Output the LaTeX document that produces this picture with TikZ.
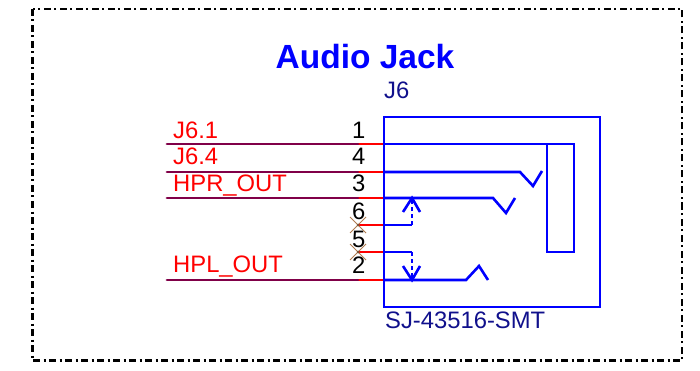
\documentclass[tikz,border=0pt]{standalone}
\usepackage{fontspec}
\setmainfont{Liberation Sans}
\usepackage{xcolor}
\usetikzlibrary{calc}

\begin{document}
\begin{tikzpicture}[x=1pt,y=-1pt,line join=miter]
	% Colors
	\definecolor{partcolor}{RGB}{0,0,255}
	\definecolor{netcolor}{RGB}{128,0,72}
	\definecolor{stubcolor}{RGB}{255,0,0}
	\definecolor{reftext}{RGB}{16,16,140}
	\definecolor{nccolor}{RGB}{176,124,80}

	\tikzset{
		part/.style={draw=partcolor,line width=2.6pt},
		net/.style={draw=netcolor,line width=2.8pt},
		stub/.style={draw=stubcolor,line width=2.8pt},
		nc/.style={draw=nccolor,line width=1pt},
		sheettext/.style={inner sep=0pt,anchor=base west,font=\fontsize{23.8}{24}\selectfont},
		pinnum/.style={sheettext,anchor=base,text=black},
		netname/.style={sheettext,text=stubcolor},
	}

	\useasboundingbox (0,0) rectangle (700,371);
	\draw[line width=2.4pt,dash pattern=on 7pt off 3.5pt on 2pt off 3.5pt] (32.5,9) rectangle (682,360.5);

	\node[inner sep=0pt,anchor=base,text=partcolor,font=\fontsize{33.5}{34}\selectfont\bfseries] (title) at (365,69) {Audio Jack};
	\node[sheettext,text=reftext] (refdes) at (384,99) {J6};
	\node[sheettext,text=reftext] (partno) at (385,328) {SJ-43516-SMT};

	% Pins, top to bottom
	\foreach \n/\y/\b in {1/144/139, 4/172/165, 3/198/192, 6/225/219, 5/252/247, 2/280/273}
	{
		\coordinate (pin\n) at (384,\y);
		\coordinate (stub\n) at (358,\y);
		\draw[stub] (stub\n) -- (pin\n);
		\node[pinnum] (num\n) at (358.8,\b) {\n};
	}

	% Nets
	\foreach \n/\y/\b/\txt in {1/144/139/J6.1, 4/172/165/J6.4, 3/198/192/HPR\_OUT, 2/280/272/HPL\_OUT}
	{
		\coordinate (end\n) at (167,\y);
		\draw[net,line cap=round] (end\n) -- (stub\n);
		\node[netname] (name\n) at (173,\b) {\txt};
	}

	% No connect marks
	\foreach \n in {6,5}
	{
		\draw[nc] ($(stub\n)+(-8,-8)$) -- ($(stub\n)+(8,8)$);
		\draw[nc] ($(stub\n)+(-8,8)$) -- ($(stub\n)+(8,-8)$);
		\fill[nccolor!70!black] (stub\n) circle (1.5);
	}

	% Jack body
	\draw[part] (384,117) rectangle (600,307);
	\draw[part] (pin1) -- (574,144) -- (574,252) -- (547,252) -- (547,144);

	% Contacts
	\draw[part] (pin4) -- (520,172) -- (533,186) -- (542,171);
	\draw[part] (pin3) -- (493,198) -- (506,213) -- (515,198);
	\draw[part] (pin2) -- (466,280) -- (479,266) -- (488,280);

	% Switches
	\coordinate (tip6) at (412,198);
	\coordinate (tip5) at (412,280);
	\draw[part] (pin6) -- (412,225);
	\draw[part,dash pattern=on 4pt off 3pt] (412,225) -- (tip6);
	\draw[part] (403,212) -- (tip6) -- (420,212);
	\draw[part] (pin5) -- (412,252);
	\draw[part,dash pattern=on 4pt off 3pt] (412,252) -- (tip5);
	\draw[part] (403,266) -- (tip5) -- (420,266);
\end{tikzpicture}
\end{document}
